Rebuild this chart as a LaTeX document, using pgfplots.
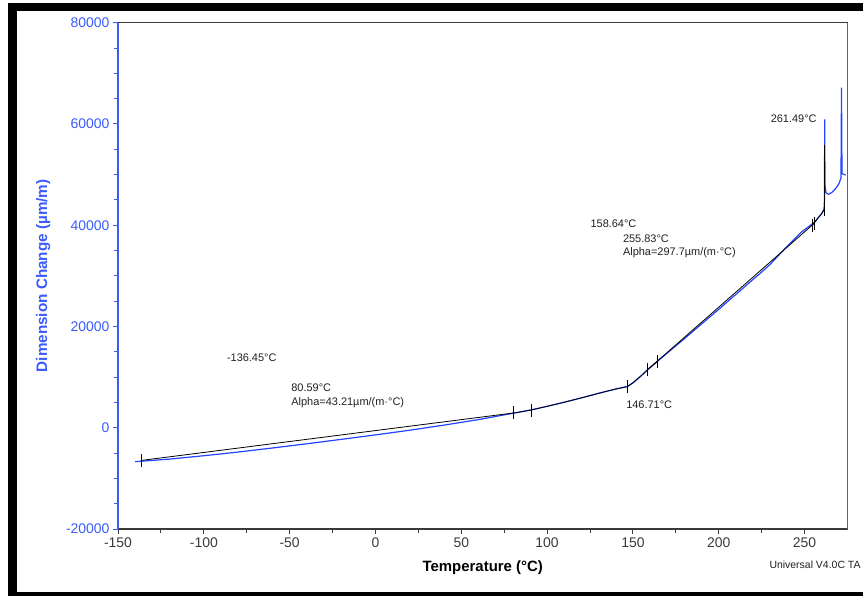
\documentclass[border=0pt]{standalone}
\usepackage{pgfplots}
\pgfplotsset{compat=1.18}
\usepackage{fontspec}
\setmainfont{Liberation Sans}
\definecolor{axblue}{HTML}{3B5BFF}
\definecolor{curveblue}{HTML}{2244FF}
\definecolor{axgray}{HTML}{3A3A3A}
\definecolor{txtgray}{HTML}{202020}
\tikzset{annot/.style={anchor=west, inner sep=0pt, font=\fontsize{11}{13}\selectfont, text=txtgray}}

\begin{document}
\begin{tikzpicture}
\path[use as bounding box] (0,0) rectangle (863bp,596bp);
% window frame
\fill[black] (8bp,0) rectangle (17bp,593bp);
\fill[black] (8bp,585bp) rectangle (863bp,593bp);
\fill[black] (8bp,0) rectangle (863bp,4bp);
\begin{axis}[
  at={(118bp,67bp)}, anchor=south west,
  scale only axis, width=729.5bp, height=506.3bp,
  xmin=-150, xmax=275, ymin=-20000, ymax=80000,
  xtick={-150,-100,...,250}, ytick={-20000,0,...,80000},
  minor x tick num=1, minor y tick num=3,
  tick align=outside, tick pos=left,
  major tick length=5bp, minor tick length=3.5bp,
  separate axis lines,
  x axis line style={draw=axgray, line width=1.1bp},
  y axis line style={draw=axblue, line width=1.1bp},
  xtick style={draw=axgray, line width=1bp},
  ytick style={draw=axblue, line width=1bp},
  /pgf/number format/assume math mode=true,
  /pgf/number format/1000 sep={},
  scaled y ticks=false,
  xticklabel style={font=\fontsize{14}{16}\selectfont, text=axgray},
  yticklabel style={font=\fontsize{14}{16}\selectfont, text=axblue},
  xlabel={Temperature (°C)},
  ylabel={Dimension Change (µm/m)},
  every axis x label/.style={at={(axis description cs:0.5,0)}, anchor=center, yshift=-39bp,
    font=\bfseries\fontsize{15}{18}\selectfont, text=black},
  every axis y label/.style={at={(axis description cs:0,0.5)}, anchor=center, xshift=-74.7bp,
    rotate=90, font=\bfseries\fontsize{15.3}{18}\selectfont, text=axblue},
  clip=false,
]
% measured curve
\addplot[curveblue, line width=1.2bp] coordinates {
 (-140,-6700) (-120,-6195) (-100,-5530) (-80,-4800) (-60,-4000) (-40,-3170)
 (-20,-2300) (0,-1410) (20,-490) (40,520) (60,1610) (80,2850) (90,3480)
 (100,4230) (110,5040) (120,5900) (130,6800) (140,7650) (146.7,8150)
 (150,8850) (155,10300) (158.6,11480) (164,13050) (170,14750) (180,17600)
 (190,20500) (200,23400) (210,26350) (220,29300) (225,30750) (230,32300)
 (240,35900) (248,38600) (255.8,40600) (258,41500) (260,42300) (261.3,43200)
 (261.6,45000) (261.7,60900) (261.9,48000) (262.5,46400) (264,46100)
 (266,46500) (268,47200) (270,48200) (271.2,49300) (271.5,67200)
 (271.8,50200) (273.9,49900)};
% analysis lines
\addplot[black, line width=0.8bp] coordinates {(-136.45,-6456) (80.59,2922)};
\addplot[black, line width=0.8bp] coordinates {
 (80.59,2900) (90.8,3500) (100,4230) (110,5040) (120,5900) (130,6800)
 (140,7650) (146.71,8100) (150,8900) (155,10350) (158.64,11500) (164.1,13050)};
\addplot[black, line width=0.8bp] coordinates {(158.64,11500) (255.83,40434)};
\addplot[black, line width=0.8bp] coordinates {(254.5,40000) (258,41500) (260,42300) (261.49,43100)};
\addplot[black, line width=0.8bp] coordinates {(261.49,41800) (261.49,55800)};
\addplot[black, only marks, mark=|, mark size=6.5bp, mark options={line width=0.9bp}] coordinates {
 (-136.45,-6456) (80.59,2922) (90.8,3500) (146.71,8100) (158.64,11500)
 (164.1,13050) (254.5,40000) (255.83,40434)};
% annotations
\node[annot] at (axis cs:-86.6,13900) {-136.45°C};
\node[annot] at (axis cs:-49.1,7980) {80.59°C};
\node[annot] at (axis cs:-49.1,5020) {Alpha=43.21µm/(m·°C)};
\node[annot] at (axis cs:125.2,40230) {158.64°C};
\node[annot] at (axis cs:144.1,37400) {255.83°C};
\node[annot] at (axis cs:144.1,34560) {Alpha=297.7µm/(m·°C)};
\node[annot] at (axis cs:146.0,4480) {146.71°C};
\node[annot] at (axis cs:230.2,60970) {261.49°C};
\end{axis}
\node[anchor=west, inner sep=0pt, font=\fontsize{10.5}{12}\selectfont, text=txtgray] at (769.3bp,31.7bp) {Universal V4.0C TA};
\end{tikzpicture}
\end{document}
